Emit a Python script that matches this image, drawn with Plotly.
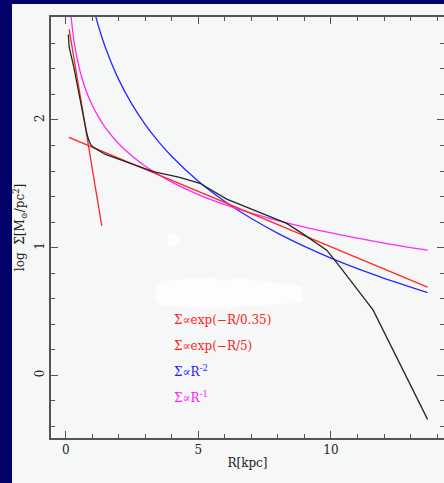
import plotly.graph_objects as go

# Observed profile (black)
r_obs = [0.10, 0.13, 0.30, 0.54, 0.70, 0.80, 0.88, 0.95, 1.05, 1.17, 1.50, 2.05, 3.30, 4.30, 5.06, 6.07, 7.32, 8.33, 9.00, 9.84, 10.34, 11.59, 13.64]
s_obs = [2.67, 2.57, 2.42, 2.16, 1.98, 1.89, 1.835, 1.805, 1.785, 1.77, 1.73, 1.69, 1.595, 1.55, 1.504, 1.38, 1.274, 1.19, 1.10, 0.98, 0.85, 0.51, -0.345]

# Σ ∝ exp(-R/0.35)
r_exp1 = [0.13, 1.36]
s_exp1 = [2.71, 1.17]

# Σ ∝ exp(-R/5)
r_exp2 = [0.12, 13.64]
s_exp2 = [1.864, 0.690]

# Σ ∝ R^-2
r_pow2 = [1.10, 1.25, 1.5, 2.0, 2.5, 3.0, 3.5, 4.0, 5.0, 6.0, 7.0, 8.0, 9.0, 10.0, 11.0, 12.0, 13.0, 13.64]
s_pow2 = [2.835, 2.724, 2.566, 2.316, 2.122, 1.964, 1.830, 1.714, 1.520, 1.362, 1.228, 1.112, 1.010, 0.918, 0.835, 0.760, 0.690, 0.648]

# Σ ∝ R^-1
r_pow1 = [0.15, 0.2, 0.3, 0.4, 0.5, 0.6, 0.8, 1.0, 1.25, 1.5, 2.0, 2.5, 3.0, 4.0, 5.0, 6.0, 7.0, 8.0, 9.0, 10.0, 11.0, 12.0, 13.0, 13.64]
s_pow1 = [2.939, 2.814, 2.638, 2.513, 2.416, 2.337, 2.212, 2.115, 2.018, 1.939, 1.814, 1.717, 1.638, 1.513, 1.416, 1.337, 1.270, 1.212, 1.161, 1.115, 1.074, 1.036, 1.001, 0.980]

labels = ["Σ∝exp(−R/0.35)", "Σ∝exp(−R/5)", "Σ∝R<sup>-2</sup>", "Σ∝R<sup>-1</sup>"]
label_colors = ["#ff2020", "#ff2020", "#2020ff", "#ff20ff"]
label_y = [0.43, 0.23, 0.03, -0.17]
label_x = 4.0

BG = "#f6f7f7"
NAVY = "#03026a"
FONT = "DejaVu Serif"

fig = go.Figure()
fig.add_trace(go.Scatter(x=r_pow2, y=s_pow2, mode="lines", line=dict(color="#2828ff", width=1.3, shape="spline", smoothing=0.6)))
fig.add_trace(go.Scatter(x=r_pow1, y=s_pow1, mode="lines", line=dict(color="#ff28ff", width=1.3, shape="spline", smoothing=0.6)))
fig.add_trace(go.Scatter(x=r_exp1, y=s_exp1, mode="lines", line=dict(color="#ff2828", width=1.3)))
fig.add_trace(go.Scatter(x=r_exp2, y=s_exp2, mode="lines", line=dict(color="#ff2828", width=1.3)))
fig.add_trace(go.Scatter(x=r_obs, y=s_obs, mode="lines", line=dict(color="#262626", width=1.3)))

for t, c, yy in zip(labels, label_colors, label_y):
    fig.add_annotation(x=label_x, y=yy, text=t, showarrow=False, xanchor="left", yanchor="middle",
                       font=dict(family=FONT, size=12, color=c))

# white frame over navy paper
fig.add_shape(type="rect", xref="paper", yref="paper", x0=-0.0992, x1=1.05, y0=-0.3, y1=1.0309,
              fillcolor=BG, line=dict(width=0), layer="below")
# erased white blobs
fig.add_shape(type="path", xref="x", yref="y", layer="below",
              path="M 3.4 0.60 Q 3.3 0.70 3.7 0.74 L 5.5 0.77 L 6.0 0.74 L 6.5 0.76 L 8.9 0.70 L 8.95 0.57 L 6.0 0.53 L 3.6 0.54 Z",
              fillcolor="#fdfdfd", line=dict(width=0))
fig.add_shape(type="circle", xref="x", yref="y", layer="below", x0=3.82, x1=4.31, y0=1.005, y1=1.115,
              fillcolor="#fdfdfd", line=dict(width=0))

axis_common = dict(showgrid=False, zeroline=False, showline=True, linecolor="#555555", linewidth=1.5,
                   mirror="ticks", ticks="inside", ticklen=7, tickwidth=1.2, tickcolor="#555555",
                   tickfont=dict(family=FONT, size=12, color="#222222"))

fig.update_xaxes(range=[-0.554, 14.26], tickvals=[0, 5, 10], ticktext=["0", "5", "10"],
                 minor=dict(ticks="inside", ticklen=4, dtick=1, tick0=0, tickcolor="#555555", tickwidth=1.2),
                 title=dict(text="R[kpc]", font=dict(family=FONT, size=12, color="#222222"), standoff=2),
                 **axis_common)
fig.update_yaxes(range=[-0.491, 2.8066], tickvals=[0, 1, 2], ticktext=["0", "1", "2"], tickangle=-90,
                 minor=dict(ticks="inside", ticklen=4, dtick=0.2, tick0=0, tickcolor="#555555", tickwidth=1.2),
                 title=dict(text="log  Σ[M<sub>⊙</sub>/pc<sup>2</sup>]", font=dict(family=FONT, size=12, color="#222222"), standoff=6),
                 **axis_common)

fig.update_layout(width=444, height=483, margin=dict(l=51, r=0, t=17, b=45, autoexpand=False),
                  paper_bgcolor=NAVY, plot_bgcolor=BG, showlegend=False)

fig.write_html("out.html")
